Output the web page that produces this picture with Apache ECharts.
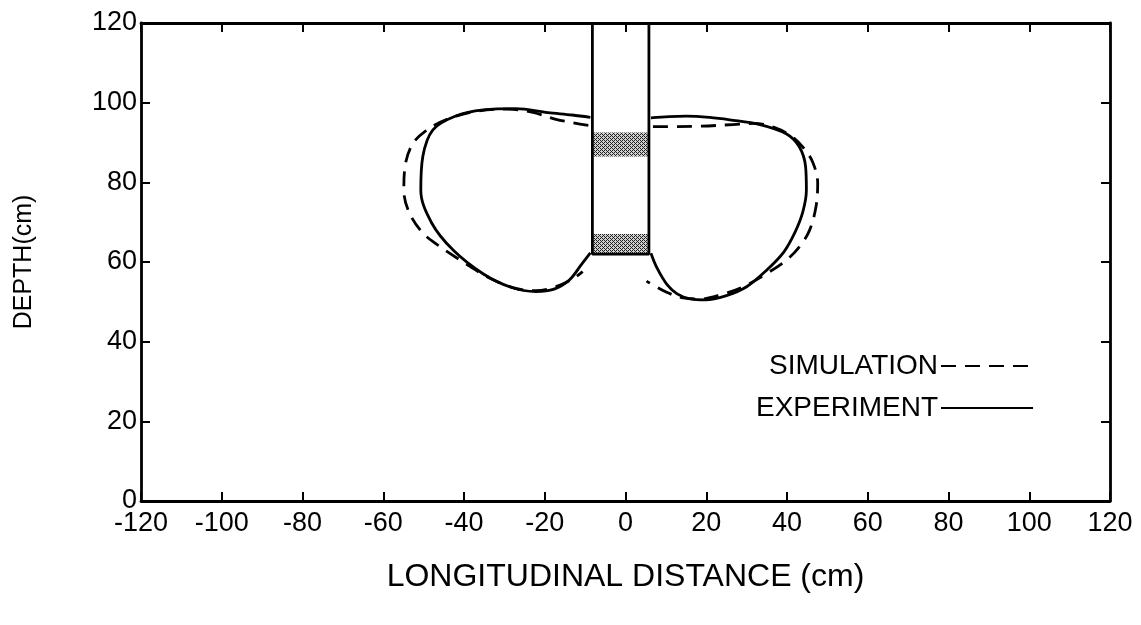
<!DOCTYPE html>
<html>
<head>
<meta charset="utf-8">
<script src="https://cdn.jsdelivr.net/npm/echarts@6/dist/echarts.min.js"></script>
<style>
html,body{margin:0;padding:0;background:#fff;}
#chart{width:1141px;height:625px;}
</style>
</head>
<body>
<div id="chart"></div>
<script>
// ---- data (cm) ----
const xTicks = { min: -120, max: 120, interval: 20 };
const yTicks = { min: 0, max: 120, interval: 20 };

const xTitle = 'LONGITUDINAL DISTANCE (cm)';
const yTitle = 'DEPTH(cm)';
const simName = 'SIMULATION';
const expName = 'EXPERIMENT';

// experiment (solid) contour, left lobe
const expLeft = [[-8.7,96.3],[-13.2,96.9],[-19.2,97.5],[-27.2,98.5],[-35.2,98.2],[-42.2,96.6],[-47.7,93.2],[-50.2,86.5],[-50.7,78],[-48,69.8],[-42.7,63],[-35.2,57],[-28.2,53.6],[-22.2,52.6],[-17.7,53.2],[-13.9,55.5],[-10.9,59.4],[-8.7,62.3]];
// simulation (dashed) contour, left lobe
const simLeft = [[-9.2,94.3],[-13.2,95],[-17.2,95.8],[-23.2,97.6],[-29.2,98.4],[-37.2,97.8],[-44.2,95.8],[-49.4,93],[-52.8,89.5],[-54.6,84],[-54.9,78],[-53.6,72.5],[-50.4,67.5],[-46.4,64.2],[-40.2,60],[-33.7,56],[-27.2,53.4],[-22.2,52.8],[-17.2,53.8],[-13.2,55.7],[-10.6,57.6]];
// experiment (solid) contour, right lobe
const expRight = [[6.3,96.2],[10.8,96.5],[15.1,96.6],[20.8,96.3],[25.8,95.7],[33.3,94.5],[39.8,92.2],[43,89],[44.6,84],[44.8,78],[43.9,72.5],[42,67.5],[39.2,62.5],[35,58],[30,53.8],[24.8,51.5],[19.8,50.5],[15.8,50.8],[12.8,52],[10.3,54.3],[7.8,58.5],[6.3,62.2]];
// simulation (dashed) contour, right lobe
const simRight = [[6.8,94],[12.8,94],[18.8,94.1],[26.6,94.5],[31.8,94.8],[36.8,93.8],[41.2,91.5],[44.2,88.5],[46.4,85],[47.6,79.8],[47.2,74],[45.6,68],[43.2,64],[40,60.6],[34.8,57],[29.2,53.8],[23.4,51.7],[18.4,50.7],[14.3,51],[10.2,52.4],[5.2,55.2]];

// central column outline and hatched bands [x0, x1, y0, y1]
const column = [[-8.2,120],[-8.2,62],[5.8,62],[5.8,120]];
const hatchBands = [[-8.2,5.8,86.5,92.5],[-8.2,5.8,62,67]];

// ---- hatch pattern ----
function makeHatch(){
  const c = document.createElement('canvas');
  c.width = 4; c.height = 4;
  const g = c.getContext('2d');
  g.fillStyle = '#cfcfcf'; g.fillRect(0,0,4,4);
  g.fillStyle = '#222';
  g.fillRect(0,0,1,1); g.fillRect(1,1,1,1); g.fillRect(2,2,1,1); g.fillRect(3,3,1,1);
  g.fillRect(2,0,1,1); g.fillRect(0,2,1,1);
  return c;
}
const hatch = { image: makeHatch(), repeat: 'repeat' };

const FONT = "'Liberation Sans', Arial, Helvetica, sans-serif";
const black = '#000';

const axisCommon = {
  type: 'value',
  axisLine: { show: true, onZero: false, lineStyle: { color: black, width: 2.8 } },
  axisTick: { show: true, inside: true, length: 9, lineStyle: { color: black, width: 2 } },
  splitLine: { show: false },
};

const chart = echarts.init(document.getElementById('chart'));
chart.setOption({
  animation: false,
  backgroundColor: '#fff',
  textStyle: { fontFamily: FONT },
  grid: { left: 141, right: 31, top: 23, bottom: 124 },
  legend: {
    data: [simName, expName],
    orient: 'vertical',
    left: 756, top: 352,
    align: 'right',
    itemWidth: 92, itemHeight: 14,
    itemGap: 14,
    padding: 0,
    itemStyle: { opacity: 0 },
    textStyle: { fontSize: 28, color: black, fontFamily: FONT, padding: [0, -2, 0, 0] },
    selectedMode: false
  },
  xAxis: [
    Object.assign({}, axisCommon, {
      position: 'bottom', min: xTicks.min, max: xTicks.max, interval: xTicks.interval,
      axisLabel: { color: black, fontSize: 27, margin: 9, fontFamily: FONT },
      name: xTitle, nameLocation: 'middle', nameGap: 60,
      nameTextStyle: { color: black, fontSize: 32, fontFamily: FONT }
    }),
    Object.assign({}, axisCommon, {
      position: 'top', min: xTicks.min, max: xTicks.max, interval: xTicks.interval,
      axisLabel: { show: false }
    })
  ],
  yAxis: [
    Object.assign({}, axisCommon, {
      position: 'left', min: yTicks.min, max: yTicks.max, interval: yTicks.interval,
      axisLabel: { color: black, fontSize: 27, margin: 4, fontFamily: FONT },
      name: yTitle, nameLocation: 'middle', nameGap: 104, nameRotate: 90,
      nameTextStyle: { color: black, fontSize: 25, fontFamily: FONT }
    }),
    Object.assign({}, axisCommon, {
      position: 'right', min: yTicks.min, max: yTicks.max, interval: yTicks.interval,
      axisLabel: { show: false }
    })
  ],
  series: [
    {
      type: 'custom', name: 'bands', silent: true, z: 1,
      data: hatchBands,
      renderItem: function(params, api){
        const p0 = api.coord([api.value(0), api.value(3)]);
        const p1 = api.coord([api.value(1), api.value(2)]);
        return { type: 'rect', shape: { x: p0[0], y: p0[1], width: p1[0]-p0[0], height: p1[1]-p0[1] },
                 style: { fill: hatch } };
      }
    },
    {
      type: 'line', name: 'column', data: column, symbol: 'none', z: 3,
      lineStyle: { color: black, width: 2.8 }
    },
    {
      type: 'line', name: expName, data: expLeft, smooth: 0.35, symbol: 'none', z: 4,
      itemStyle: { color: black },
      lineStyle: { color: black, width: 2.8 }
    },
    {
      type: 'line', name: expName, data: expRight, smooth: 0.35, symbol: 'none', z: 4,
      itemStyle: { color: black },
      lineStyle: { color: black, width: 2.8 }
    },
    {
      type: 'line', name: simName, data: simLeft, smooth: 0.35, symbol: 'none', z: 4,
      itemStyle: { color: black },
      lineStyle: { color: black, width: 2.8, type: [15, 9] }
    },
    {
      type: 'line', name: simName, data: simRight, smooth: 0.35, symbol: 'none', z: 4,
      itemStyle: { color: black },
      lineStyle: { color: black, width: 2.8, type: [15, 9] }
    }
  ]
});
</script>
</body>
</html>
